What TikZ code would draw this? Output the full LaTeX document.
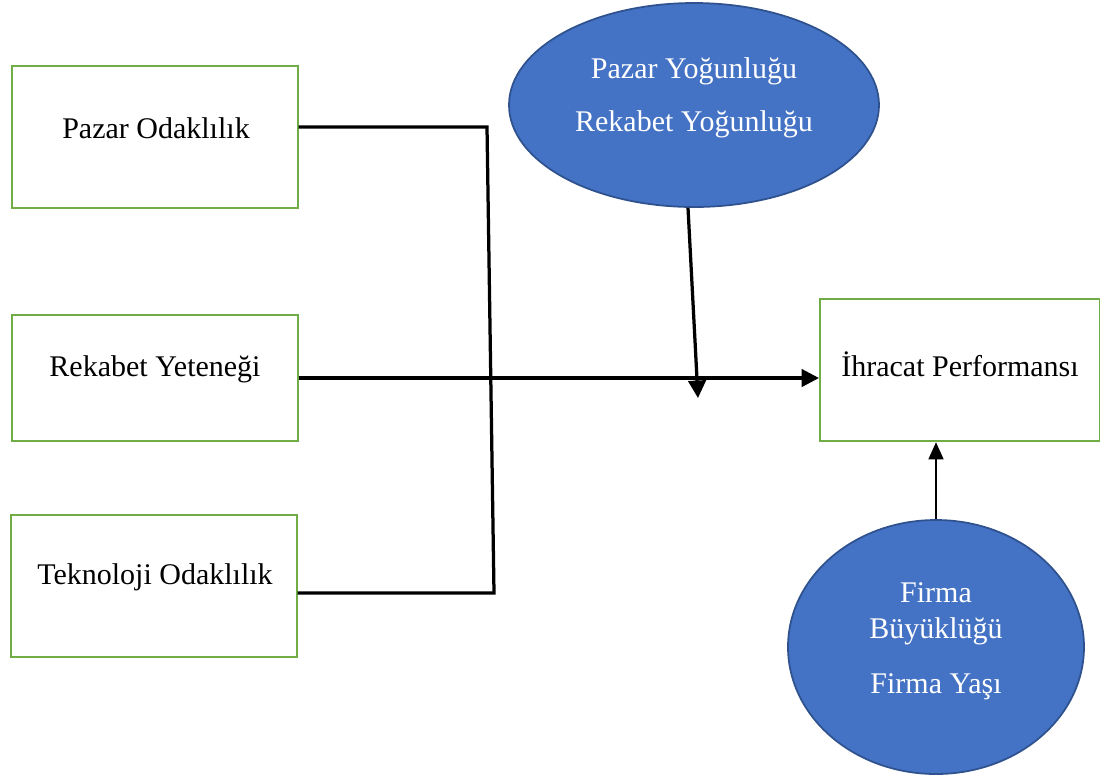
\documentclass[tikz,border=0pt]{standalone}
\usepackage{fontspec}
\setmainfont{Liberation Serif}
\usetikzlibrary{shapes.geometric,arrows.meta}
\definecolor{kutuyesil}{HTML}{70AD47}
\definecolor{ovalmavi}{HTML}{4472C4}
\definecolor{ovalkenar}{HTML}{2F528F}
\begin{document}
\begin{tikzpicture}[x=0.4pt, y=-0.4pt,
    kutu/.style={draw=kutuyesil, line width=0.8pt, minimum width=114pt, minimum height=57pt, inner sep=0pt},
    oval/.style={ellipse, draw=ovalkenar, fill=ovalmavi, line width=0.7pt, inner sep=0pt},
    yazi/.style={font=\fontsize{12}{14}\selectfont, inner sep=0pt},
    beyaz/.style={yazi, text=white},
    cizgi/.style={line width=1.3pt},
    ok/.style={line width=1.3pt, -{Triangle[width=7pt,length=7pt]}},
    inceok/.style={line width=0.5pt, -{Triangle[width=6pt,length=6.8pt]}}]
    \useasboundingbox (0,0) rectangle (1100,776);

    % Sol kutular
    \node[kutu] (pazar) at (155,137) {};
    \node[kutu, minimum height=50.4pt] (rekabet) at (155,378) {};
    \node[kutu] (tekno) at (154,586) {};
    \node[yazi] (tpazar) at (156,128) {Pazar Odaklılık};
    \node[yazi] (trekabet) at (155,369) {Rekabet Yeteneği};
    \node[yazi] (ttekno) at (155,577) {Teknoloji Odaklılık};

    % Sag kutu
    \node[kutu, minimum width=112pt] (ihracat) at (960,370) {};
    \node[yazi] (tihracat) at (960,364) {İhracat Performansı};

    % Ovaller
    \node[oval, minimum width=148pt, minimum height=81.6pt] (yogun) at (694,105) {};
    \node[beyaz] (tyogun1) at (694,71) {Pazar Yoğunluğu};
    \node[beyaz] (tyogun2) at (694,124) {Rekabet Yoğunluğu};
    \node[oval, minimum width=118.4pt, minimum height=101.6pt] (firma) at (936,647) {};
    \node[beyaz] (tfirma1) at (936,593) {Firma};
    \node[beyaz] (tfirma2) at (936,631) {Büyüklüğü};
    \node[beyaz] (tfirma3) at (936,687) {Firma Yaşı};

    % Baglantilar
    \coordinate (d1) at (487,127);
    \coordinate (d2) at (494,593);
    \coordinate (alt) at (698,398);
    \draw[cizgi] (pazar.east |- d1) -- (d1) -- (d2) -- (tekno.east |- d2);
    \draw[ok] (rekabet.east) -- (rekabet.east -| ihracat.west);
    \draw[ok] ([xshift=-2.4pt]yogun.south) -- (alt);
    \draw[inceok] (firma.north) -- (firma.north |- ihracat.south);
\end{tikzpicture}
\end{document}
